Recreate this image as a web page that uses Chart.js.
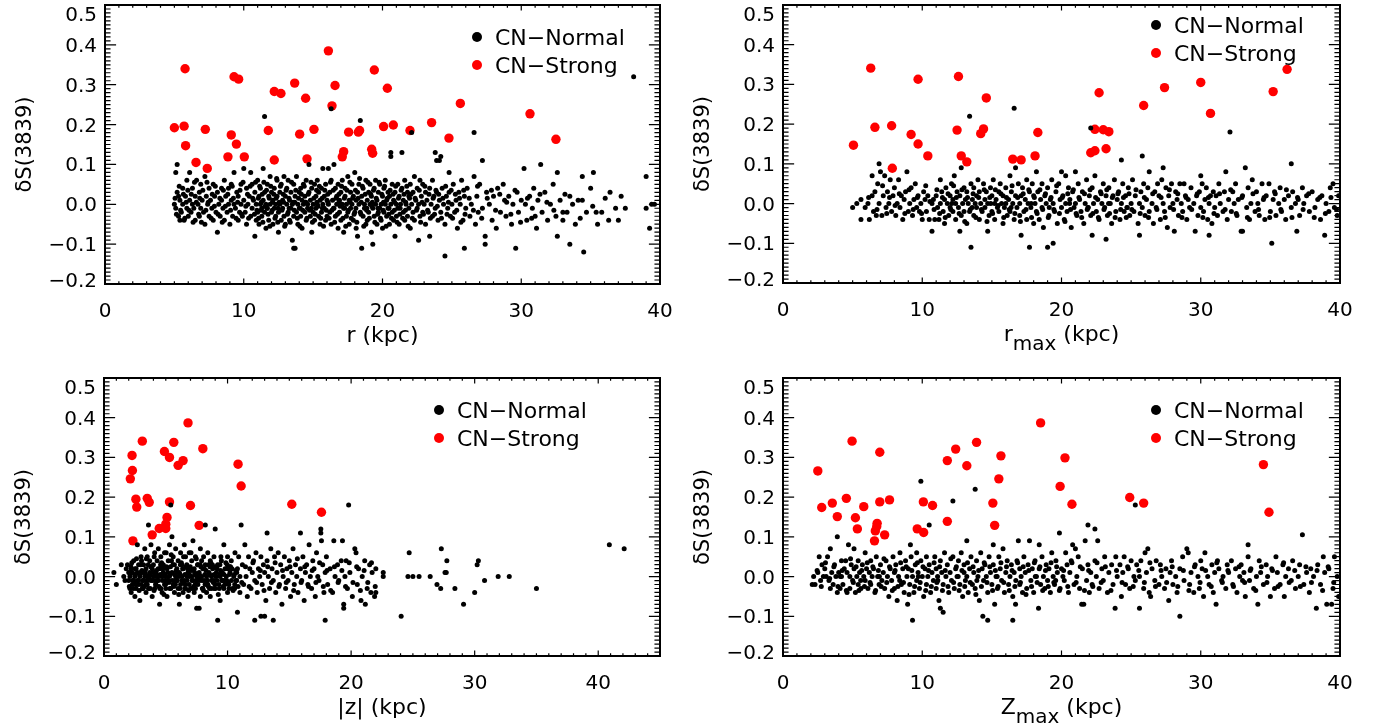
<!DOCTYPE html>
<html>
<head>
<meta charset="utf-8">
<script src="https://cdn.jsdelivr.net/npm/chart.js@4.4.0/dist/chart.umd.min.js"></script>
<style>
  html, body { margin: 0; padding: 0; background: #fff; }
  #wrap { position: relative; width: 1380px; height: 727px; overflow: hidden; }
  canvas { position: absolute; }
</style>
</head>
<body>
<div id="wrap">
  <canvas id="pR" width="690" height="363" style="left:0;top:0"></canvas>
  <canvas id="pRmax" width="690" height="363" style="left:690px;top:0"></canvas>
  <canvas id="pZ" width="690" height="363" style="left:0;top:364px"></canvas>
  <canvas id="pZmax" width="690" height="363" style="left:690px;top:364px"></canvas>
</div>
<script>
// tick labels
const yTicks = [-0.2, -0.1, 0.0, 0.1, 0.2, 0.3, 0.4, 0.5];
const yTickLabels = ["\u22120.2", "\u22120.1", "0.0", "0.1", "0.2", "0.3", "0.4", "0.5"];
const xTicks = [0, 10, 20, 30, 40];
const xTickLabels = ["0", "10", "20", "30", "40"];
const yTitle = "\u03b4S(3839)";
const seriesNames = ["CN\u2212Normal", "CN\u2212Strong"];

const strongR = [5.0,0.192, 5.7,0.196, 5.77,0.340, 5.81,0.147, 6.56,0.105, 7.23,0.188, 7.37,0.09, 8.86,0.119, 9.1,0.174, 9.3,0.32, 9.63,0.314, 9.47,0.151, 10.04,0.119, 11.77,0.185, 12.2,0.283, 12.68,0.278, 12.2,0.111, 13.67,0.304, 14.03,0.176, 14.46,0.266, 14.56,0.114, 15.06,0.188, 16.1,0.385, 16.36,0.247, 16.58,0.298, 17.1,0.119, 17.2,0.132, 17.56,0.181, 18.26,0.181, 18.35,0.185, 19.22,0.138, 19.29,0.128, 19.41,0.337, 20.08,0.195, 20.35,0.291, 20.78,0.199, 21.98,0.185, 23.54,0.205, 24.79,0.166, 25.61,0.253, 30.63,0.227, 32.5,0.163];

const normalR = [
5.0,0.00, 5.1,0.08, 5.1,-0.01, 5.2,0.03, 5.2,0.10, 5.3,-0.03, 5.3,0.02, 5.4,-0.04, 5.4,0.01, 5.5,-0.02, 5.6,0.00, 5.6,0.04, 5.7,-0.04, 5.8,0.02, 5.9,-0.01, 5.9,0.06,
6.0,-0.03, 6.1,0.08, 6.1,0.01, 6.2,-0.02, 6.3,0.04, 6.3,0.00, 6.4,-0.01, 6.5,0.02, 6.5,-0.04, 6.6,0.06, 6.7,0.00, 6.8,-0.03, 6.8,0.03, 6.9,-0.01, 6.9,0.05,
7.0,0.01, 7.1,-0.02, 7.2,0.07, 7.2,-0.05, 7.3,0.02, 7.4,0.00, 7.5,-0.03, 7.5,0.04, 7.6,0.01, 7.7,-0.01, 7.8,0.05, 7.8,-0.04, 7.9,0.02, 8.0,-0.02,
8.1,-0.07, 8.1,0.03, 8.2,0.00, 8.3,-0.03, 8.4,0.04, 8.4,0.01, 8.5,-0.01, 8.6,0.06, 8.6,-0.04, 8.7,0.02, 8.8,-0.02, 8.9,0.00, 8.9,0.04, 9.0,-0.05,
9.1,0.05, 9.1,0.01, 9.2,-0.03, 9.3,0.08, 9.3,0.00, 9.4,-0.01, 9.5,0.03, 9.6,-0.04, 9.6,0.02, 9.7,-0.02, 9.8,0.05, 9.8,0.00, 9.9,-0.03, 10.0,0.09, 10.0,0.01,
10.1,-0.02, 10.2,0.04, 10.2,-0.05, 10.3,0.00, 10.4,0.02, 10.5,0.08, 10.5,-0.03, 10.6,0.05, 10.6,-0.01, 10.7,0.01, 10.8,-0.08, 10.8,0.03, 10.9,-0.04, 10.9,0.00,
11.0,0.06, 11.0,-0.02, 11.1,0.02, 11.1,-0.05, 11.2,0.00, 11.2,0.04, 11.3,-0.01, 11.3,-0.03, 11.4,0.09, 11.4,0.01, 11.5,0.03, 11.5,-0.02, 11.5,0.22, 11.6,0.00, 11.6,-0.06, 11.7,0.05, 11.7,-0.01, 11.8,0.02, 11.8,-0.04, 11.9,0.07, 11.9,0.00, 12.0,-0.02, 12.0,0.03,
12.1,0.01, 12.1,-0.05, 12.2,0.04, 12.2,-0.01, 12.3,0.00, 12.3,-0.03, 12.4,0.06, 12.4,0.02, 12.5,-0.02, 12.5,-0.07, 12.6,0.03, 12.6,0.00, 12.7,-0.04, 12.7,0.05, 12.8,0.01, 12.8,-0.01, 12.9,0.07, 12.9,-0.03, 13.0,0.02, 13.0,-0.05,
13.1,0.00, 13.1,0.04, 13.2,-0.02, 13.2,0.06, 13.3,0.01, 13.3,-0.04, 13.4,0.03, 13.4,-0.01, 13.5,-0.09, 13.5,0.00, 13.6,-0.11, 13.6,0.05, 13.6,-0.03, 13.7,-0.11, 13.7,0.02, 13.8,-0.02, 13.8,0.07, 13.9,0.00, 13.9,-0.05, 14.0,0.03, 14.0,-0.01,
14.1,0.04, 14.1,-0.03, 14.2,0.01, 14.2,-0.06, 14.3,0.00, 14.3,0.05, 14.4,-0.02, 14.4,0.02, 14.5,-0.04, 14.5,0.06, 14.6,0.00, 14.6,-0.01, 14.7,0.10, 14.7,0.03, 14.8,-0.03, 14.8,0.01, 14.9,-0.07, 14.9,0.04, 15.0,0.00, 15.0,-0.02,
15.1,0.05, 15.1,-0.04, 15.2,0.02, 15.2,-0.01, 15.3,0.00, 15.3,0.06, 15.4,-0.03, 15.4,0.03, 15.5,0.01, 15.5,-0.05, 15.6,-0.02, 15.6,0.04, 15.7,0.09, 15.7,0.00, 15.8,-0.01, 15.8,0.02, 15.9,-0.04, 15.9,0.05, 16.0,0.01, 16.0,-0.03,
16.1,0.00, 16.1,0.09, 16.2,-0.02, 16.2,0.03, 16.3,0.06, 16.3,-0.05, 16.3,0.24, 16.4,0.01, 16.5,0.10, 16.5,-0.01, 16.6,0.04, 16.6,-0.03, 16.7,0.00, 16.7,0.02, 16.8,-0.06, 16.8,0.05, 16.9,-0.02, 16.9,0.01, 17.0,0.03, 17.0,-0.04,
17.1,0.00, 17.1,0.06, 17.2,-0.01, 17.2,-0.07, 17.3,0.02, 17.3,0.04, 17.4,-0.03, 17.4,0.00, 17.5,0.07, 17.5,-0.02, 17.6,0.01, 17.6,-0.05, 17.7,0.03, 17.7,-0.01, 17.8,0.05, 17.8,0.00, 17.9,-0.04, 17.9,0.02, 18.0,-0.02, 18.0,0.08,
18.1,0.01, 18.1,-0.06, 18.2,0.03, 18.2,-0.08, 18.3,0.00, 18.3,0.05, 18.4,-0.02, 18.4,0.21, 18.5,-0.11, 18.5,0.02, 18.6,-0.03, 18.6,0.04, 18.7,0.00, 18.7,-0.01, 18.8,0.06, 18.8,-0.05, 18.9,0.01, 18.9,-0.04, 19.0,0.03, 19.0,-0.02,
19.1,0.05, 19.1,0.00, 19.2,-0.07, 19.2,0.02, 19.3,-0.10, 19.3,-0.01, 19.4,0.04, 19.4,-0.03, 19.5,0.00, 19.5,0.06, 19.6,0.01, 19.6,-0.05, 19.7,-0.02, 19.7,0.03, 19.8,0.05, 19.8,-0.01, 19.9,0.00, 19.9,-0.04, 20.0,0.02, 20.0,-0.06,
20.1,0.04, 20.1,-0.02, 20.2,0.00, 20.2,0.06, 20.3,-0.03, 20.3,0.01, 20.4,0.03, 20.4,-0.01, 20.5,-0.05, 20.5,0.02, 20.6,0.13, 20.6,0.00, 20.6,0.12, 20.7,-0.02, 20.7,0.05, 20.8,0.01, 20.8,-0.04, 20.9,-0.08, 20.9,0.03, 21.0,0.00, 21.0,-0.03,
21.1,0.05, 21.1,-0.01, 21.2,0.02, 21.2,-0.05, 21.3,0.00, 21.4,0.13, 21.4,0.04, 21.5,-0.02, 21.5,0.01, 21.6,-0.04, 21.6,0.06, 21.7,0.00, 21.8,0.03, 21.8,-0.03, 21.9,-0.01, 21.9,0.02, 22.0,0.05, 22.0,-0.06,
22.1,0.18, 22.1,0.00, 22.2,-0.02, 22.2,0.03, 22.3,0.07, 22.3,-0.04, 22.4,0.01, 22.5,-0.01, 22.5,0.04, 22.6,-0.09, 22.6,0.00, 22.7,0.06, 22.7,-0.03, 22.8,0.02, 22.9,-0.02, 22.9,0.05, 23.0,0.00,
23.1,-0.05, 23.1,0.03, 23.2,0.01, 23.3,-0.02, 23.4,-0.08, 23.4,0.04, 23.5,0.00, 23.6,0.06, 23.6,-0.03, 23.7,0.02, 23.8,0.13, 23.8,-0.01, 23.9,0.11, 23.9,0.03, 24.0,-0.04,
24.1,0.11, 24.1,0.01, 24.2,0.12, 24.2,-0.02, 24.3,0.04, 24.4,0.00, 24.5,-0.13, 24.5,-0.05, 24.6,0.02, 24.7,-0.01, 24.8,0.08, 24.8,0.03, 24.9,-0.03, 25.0,0.00,
25.1,0.05, 25.2,-0.02, 25.3,0.01, 25.4,-0.06, 25.5,0.03, 25.6,0.00, 25.7,0.06, 25.8,-0.04, 25.9,-0.11, 25.9,0.02, 26.0,-0.01,
26.1,0.04, 26.3,-0.03, 26.4,0.00, 26.6,0.18, 26.6,0.07, 26.7,-0.05, 26.8,0.02, 26.9,-0.02,
27.0,0.05, 27.2,0.11, 27.2,-0.01, 27.4,-0.10, 27.4,-0.08, 27.5,0.03, 27.7,0.00, 27.9,-0.04,
28.0,0.02, 28.2,-0.06, 28.3,0.04, 28.5,-0.02, 28.7,0.05, 28.8,0.01, 28.9,-0.03,
29.1,0.02, 29.3,-0.05, 29.4,0.00, 29.6,-0.11, 29.7,0.03, 29.8,-0.02, 30.0,0.01,
30.2,0.09, 30.3,0.00, 30.4,-0.04, 30.6,0.02, 30.8,-0.01, 30.9,0.04,
31.0,-0.03, 31.1,-0.06, 31.2,0.01, 31.4,0.10, 31.5,-0.02, 31.7,0.03, 31.9,-0.04,
32.1,0.00, 32.3,0.05, 32.5,-0.03, 32.6,0.08, 32.6,-0.08, 32.8,0.01, 33.0,-0.02, 33.0,-0.04,
33.3,-0.02, 33.5,0.02, 33.5,-0.10, 33.7,0.00, 33.9,-0.05,
34.1,0.01, 34.4,0.01, 34.4,0.07, 34.5,-0.12, 34.7,-0.02, 35.0,0.04,
35.2,0.08, 35.4,-0.02, 35.5,-0.05, 35.8,-0.02,
36.3,-0.04, 36.4,0.03, 36.8,-0.01, 37.0,-0.04,
37.2,0.02, 37.5,-0.01, 38.1,0.32, 39.0,0.07, 39.0,-0.01, 39.25,-0.06, 39.4,0.00, 39.6,0.00
];
// crowded band of the r panel, filled in where single dots merge
const bandR = [
5.05,0.015, 5.15,-0.025, 5.35,0.045, 5.45,-0.015, 5.65,0.025, 5.75,-0.035, 5.85,0.005, 5.97,0.035, 6.05,-0.015, 6.22,0.025, 6.35,-0.045, 6.45,0.055, 6.58,0.005, 6.75,-0.025, 6.83,0.015, 6.95,-0.045,
7.05,0.035, 7.27,-0.015, 7.35,0.055, 7.44,0.005, 7.65,-0.035, 7.73,0.025, 7.88,-0.005, 7.95,0.045, 8.15,-0.025, 8.28,0.015, 8.45,-0.045, 8.53,0.035, 8.67,-0.005, 8.85,0.025, 9.05,-0.015, 9.17,0.045,
9.25,0.015, 9.45,-0.035, 9.56,0.005, 9.73,0.035, 9.85,-0.025, 9.95,0.055, 10.15,-0.005, 10.27,0.025, 10.35,-0.035, 10.46,0.045, 10.65,0.015, 10.77,-0.025, 10.85,0.055, 10.95,-0.015,
11.05,0.015, 11.07,-0.035, 11.15,0.045, 11.25,-0.015, 11.33,0.025, 11.38,-0.045, 11.45,0.055, 11.55,-0.005, 11.64,0.035, 11.75,-0.025, 11.84,0.015, 11.88,-0.055, 11.95,0.045, 12.05,-0.015, 12.17,0.025,
12.25,-0.035, 12.33,0.015, 12.37,0.065, 12.45,-0.045, 12.55,0.005, 12.64,0.045, 12.75,-0.015, 12.85,0.025, 12.95,-0.055, 13.05,0.035, 13.15,-0.025, 13.26,0.015, 13.35,-0.045, 13.45,0.055, 13.55,0.005,
13.65,-0.015, 13.75,0.035, 13.86,-0.035, 13.95,0.015, 14.05,-0.055, 14.15,0.025, 14.25,-0.015, 14.36,0.045, 14.45,0.005, 14.55,-0.035, 14.65,0.025, 14.74,-0.015, 14.85,0.055, 14.95,-0.045, 15.05,0.015,
15.15,-0.025, 15.25,0.035, 15.36,-0.005, 15.45,0.045, 15.55,-0.035, 15.65,0.015, 15.75,-0.055, 15.84,0.035, 15.95,-0.015, 16.05,0.025, 16.15,-0.035, 16.25,0.055, 16.35,-0.015, 16.45,0.035, 16.55,-0.045,
16.65,0.015, 16.75,-0.025, 16.86,0.025, 16.95,-0.005, 17.05,0.045, 17.15,-0.035, 17.25,0.015, 17.35,-0.055, 17.44,0.035, 17.55,-0.015, 17.65,0.055, 17.75,-0.035, 17.85,0.015, 17.95,-0.025, 18.05,0.035,
18.15,-0.045, 18.24,0.015, 18.35,0.065, 18.45,-0.025, 18.55,0.045, 18.65,-0.055, 18.75,0.025, 18.86,-0.015, 18.95,0.055, 19.05,-0.035, 19.15,0.025, 19.24,-0.005, 19.35,0.035, 19.45,-0.045, 19.55,0.015,
19.65,-0.025, 19.75,0.055, 19.85,-0.035, 19.95,0.025, 20.05,-0.015, 20.15,0.045, 20.26,-0.055, 20.35,0.015, 20.45,-0.025, 20.55,0.035, 20.65,-0.035, 20.76,0.025, 20.85,-0.015, 20.95,0.045, 21.05,-0.045,
21.15,0.015, 21.25,-0.025, 21.34,0.035, 21.45,-0.035, 21.55,0.025, 21.65,-0.015, 21.75,0.045, 21.85,-0.055, 21.95,0.015,
11.27,0.005, 11.67,-0.01, 12.07,0.005, 12.47,-0.01, 12.87,0.005, 13.27,-0.01, 13.68,0.005, 14.07,-0.01, 14.47,0.005, 14.87,-0.01, 15.27,0.005, 15.67,-0.01, 16.07,0.005, 16.47,-0.01,
16.87,0.005, 17.27,-0.01, 17.67,0.005, 18.08,-0.01, 18.47,0.005, 18.87,-0.01, 19.27,0.005, 19.67,-0.01, 20.07,0.005, 20.47,-0.01, 20.87,0.005, 21.27,-0.01, 21.67,0.005,
22.05,0.025, 22.15,-0.035, 22.35,0.015, 22.45,-0.015, 22.65,0.035, 22.75,-0.045, 22.85,0.005, 22.95,-0.025, 23.05,0.045, 23.25,-0.015, 23.35,0.025, 23.45,-0.035, 23.65,0.015, 23.75,-0.025, 23.85,0.035,
23.95,-0.005, 24.05,0.025, 24.25,-0.035, 24.35,0.015, 24.55,0.045, 24.65,-0.025, 24.75,0.005, 24.95,0.035, 25.05,-0.035, 25.25,0.025, 25.35,-0.015, 25.55,0.015, 25.65,-0.045, 25.85,0.035, 25.95,-0.025,
26.25,0.015, 26.55,-0.015, 26.85,0.045, 27.15,-0.035, 27.55,0.015, 27.85,0.035, 28.15,-0.015, 28.45,0.025, 28.95,0.005, 29.25,-0.025, 29.55,0.035, 29.95,-0.045, 30.45,0.015, 30.75,-0.035, 31.35,0.025,
31.85,0.005, 32.35,-0.015, 33.15,0.025, 34.25,-0.035, 35.15,-0.005, 36.05,0.015
];

const strongRmax = [5.06,0.147, 6.3,0.341, 6.6,0.192, 7.8,0.196, 7.85,0.089, 9.2,0.174, 9.7,0.150, 9.7,0.313, 10.4,0.120, 12.5,0.185, 12.6,0.320, 12.8,0.120, 13.2,0.105, 14.2,0.176, 14.4,0.188, 14.6,0.266, 16.5,0.112, 17.1,0.110, 18.1,0.120, 18.3,0.179, 22.1,0.128, 22.4,0.133, 22.4,0.187, 22.7,0.279, 23.0,0.186, 23.4,0.181, 23.2,0.138, 25.9,0.247, 27.4,0.292, 30.0,0.305, 30.7,0.227, 35.2,0.282, 36.2,0.338];

const normalRmax = [
5.0,-0.01, 5.3,0.00, 5.6,-0.04, 5.6,0.01, 5.9,-0.01, 6.1,0.00, 6.2,-0.04, 6.4,0.07, 6.4,0.02, 6.5,-0.02, 6.6,0.03, 6.7,-0.03, 6.8,0.05, 6.9,0.10, 6.9,0.00,
7.0,0.08, 7.1,-0.03, 7.2,0.02, 7.3,0.07, 7.4,-0.01, 7.5,0.03, 7.6,0.00, 7.7,0.06, 7.8,-0.02, 7.9,0.02, 8.0,0.04, 8.1,-0.03, 8.2,0.00, 8.3,0.06, 8.4,-0.01, 8.5,0.02, 8.6,-0.04, 8.7,0.01, 8.8,0.03, 8.9,0.08, 9.0,-0.02,
9.1,0.00, 9.2,0.04, 9.3,-0.03, 9.4,0.01, 9.5,0.05, 9.6,-0.01, 9.7,0.02, 9.8,-0.02, 9.9,0.00, 10.0,-0.04, 10.1,0.03, 10.2,0.01, 10.3,-0.02, 10.4,0.02, 10.5,-0.04, 10.7,-0.07, 10.7,0.00, 10.8,0.01, 10.9,-0.04,
11.0,0.02, 11.1,-0.01, 11.2,-0.04, 11.3,0.06, 11.3,0.00, 11.4,0.03, 11.5,-0.02, 11.6,0.01, 11.6,-0.05, 11.7,0.04, 11.8,0.00, 11.9,-0.03, 12.0,0.02, 12.0,-0.01,
12.1,0.05, 12.2,-0.02, 12.2,0.01, 12.3,0.07, 12.4,-0.04, 12.4,0.00, 12.5,0.03, 12.6,-0.01, 12.7,-0.07, 12.7,0.02, 12.8,0.09, 12.8,-0.03, 12.9,0.00, 13.0,0.04, 13.0,-0.02,
13.1,0.01, 13.2,-0.05, 13.2,0.03, 13.3,0.00, 13.4,0.22, 13.4,-0.02, 13.5,-0.11, 13.5,0.05, 13.6,0.01, 13.7,-0.03, 13.7,0.04, 13.8,0.00, 13.9,-0.01, 13.9,0.02, 14.0,0.06,
14.1,-0.04, 14.1,0.03, 14.2,0.00, 14.3,-0.02, 14.4,0.05, 14.5,0.01, 14.5,-0.01, 14.6,0.03, 14.7,-0.07, 14.7,0.00, 14.8,-0.03, 14.9,0.04, 15.0,-0.02, 15.0,0.02,
15.1,0.06, 15.2,0.00, 15.2,-0.04, 15.3,0.01, 15.4,-0.01, 15.5,0.03, 15.5,-0.02, 15.6,0.05, 15.7,0.00, 15.8,-0.05, 15.8,0.02, 15.9,-0.01, 16.0,0.04, 16.0,0.00,
16.1,-0.03, 16.2,0.01, 16.3,0.07, 16.3,-0.02, 16.4,0.03, 16.5,0.00, 16.6,0.24, 16.6,-0.04, 16.7,0.02, 16.7,0.09, 16.8,-0.01, 16.9,0.05, 17.0,0.00, 17.0,-0.03,
17.1,-0.08, 17.1,0.02, 17.2,0.04, 17.3,-0.02, 17.4,0.01, 17.5,0.06, 17.5,-0.04, 17.6,0.00, 17.7,-0.11, 17.7,0.03, 17.8,-0.01, 17.9,0.05, 18.0,0.02, 18.0,-0.05,
18.1,0.00, 18.2,0.08, 18.2,-0.02, 18.3,0.03, 18.4,-0.04, 18.5,0.01, 18.6,0.05, 18.6,-0.01, 18.7,-0.06, 18.8,0.02, 18.9,0.00, 19.0,-0.11, 19.0,0.04,
19.1,-0.03, 19.2,0.01, 19.3,0.06, 19.4,-0.10, 19.4,0.00, 19.5,-0.02, 19.6,0.03, 19.7,-0.05, 19.8,0.05, 19.9,0.01, 20.0,-0.01, 20.0,0.08,
20.1,0.02, 20.2,-0.04, 20.3,0.07, 20.3,0.00, 20.4,-0.02, 20.5,0.04, 20.6,0.01, 20.7,-0.06, 20.8,0.03, 20.9,-0.01, 21.0,0.08, 21.0,0.00,
21.1,-0.03, 21.2,0.05, 21.3,0.01, 21.4,-0.02, 21.5,0.03, 21.6,-0.05, 21.7,0.00, 21.8,0.06, 21.9,-0.01, 22.0,0.02,
22.1,0.19, 22.1,-0.03, 22.2,-0.08, 22.2,0.04, 22.3,0.00, 22.4,0.07, 22.5,-0.02, 22.6,0.01, 22.7,-0.04, 22.8,0.03, 22.9,0.00, 23.0,0.05,
23.1,-0.01, 23.2,-0.09, 23.2,0.02, 23.3,-0.03, 23.4,0.04, 23.5,0.00, 23.6,-0.05, 23.7,0.02, 23.8,0.06, 23.9,-0.02, 24.0,0.01,
24.1,0.03, 24.2,-0.04, 24.3,0.11, 24.3,0.00, 24.4,0.05, 24.5,-0.02, 24.6,0.02, 24.7,-0.01, 24.8,0.04, 24.9,-0.03, 25.0,0.00,
25.1,0.06, 25.2,-0.02, 25.3,0.02, 25.5,-0.05, 25.6,-0.08, 25.6,0.00, 25.7,0.03, 25.8,0.12, 25.8,-0.01, 25.9,0.05, 26.0,-0.03,
26.1,0.01, 26.2,0.04, 26.3,0.08, 26.3,-0.02, 26.5,0.00, 26.6,-0.05, 26.7,0.03, 26.8,-0.01, 26.9,0.05, 27.0,0.02,
27.1,-0.04, 27.2,0.06, 27.3,0.09, 27.3,0.00, 27.4,-0.02, 27.5,0.04, 27.6,-0.06, 27.7,0.02, 27.8,-0.01, 27.9,0.05, 28.0,0.00,
28.1,-0.07, 28.2,0.03, 28.3,0.01, 28.4,-0.03, 28.5,0.05, 28.6,0.00, 28.7,-0.02, 28.8,0.05, 28.9,0.02, 29.0,-0.04,
29.1,0.01, 29.2,-0.01, 29.3,0.04, 29.5,0.00, 29.6,-0.07, 29.7,0.02, 29.8,-0.03, 29.9,0.03, 30.0,0.07, 30.0,-0.01,
30.1,0.05, 30.2,-0.02, 30.3,0.01, 30.4,0.04, 30.5,-0.04, 30.6,-0.08, 30.6,0.00, 30.7,0.02, 30.8,-0.05, 30.9,0.03, 31.0,-0.01,
31.1,0.02, 31.2,-0.03, 31.3,0.05, 31.4,0.00, 31.6,-0.02, 31.7,0.03, 31.8,0.08, 31.9,-0.04, 32.0,0.01,
32.1,0.18, 32.2,-0.02, 32.3,0.03, 32.4,0.00, 32.5,0.05, 32.6,-0.03, 32.7,0.01, 32.9,-0.07, 33.0,-0.07, 33.0,0.02,
33.2,0.09, 33.3,-0.01, 33.4,0.04, 33.5,-0.04, 33.6,0.00, 33.7,0.06, 33.9,-0.02, 34.0,0.03,
34.1,0.00, 34.2,-0.03, 34.4,0.05, 34.5,0.01, 34.6,-0.04, 34.7,0.02, 34.9,0.05, 35.0,-0.02,
35.1,-0.10, 35.2,0.01, 35.3,0.03, 35.4,-0.03, 35.6,0.00, 35.7,0.04, 35.8,-0.02, 36.0,0.01,
36.1,-0.04, 36.3,0.02, 36.5,0.10, 36.5,-0.01, 36.6,0.03, 36.8,0.00, 36.9,-0.07, 37.0,0.01,
37.1,-0.03, 37.3,0.04, 37.4,0.00, 37.6,0.02, 37.8,-0.02, 38.0,0.03,
38.2,-0.01, 38.4,0.01, 38.6,-0.04, 38.7,0.02, 38.9,-0.08, 39.0,0.00, 39.2,-0.02, 39.3,0.04, 39.5,0.05, 39.6,-0.01, 39.8,-0.03, 39.9,0.02
];
const bandRmax = [
6.15,0.015, 6.75,-0.015, 7.15,0.045, 7.45,-0.025, 7.65,0.015, 8.05,-0.005, 8.35,0.025, 8.75,-0.025, 9.05,0.035, 9.35,-0.015, 9.65,0.015, 9.95,-0.025, 10.25,0.045, 10.55,0.005, 10.85,-0.015,
11.05,0.035, 11.25,-0.025, 11.45,0.015, 11.65,-0.035, 11.85,0.025, 12.05,-0.015, 12.25,0.045, 12.45,0.015, 12.65,-0.025, 12.85,0.035, 13.05,-0.045, 13.25,0.015, 13.45,-0.015, 13.65,0.025, 13.85,-0.035,
14.05,0.015, 14.25,-0.015, 14.45,0.035, 14.65,-0.045, 14.85,0.015, 15.05,-0.025, 15.25,0.035, 15.45,-0.005, 15.65,0.025, 15.85,-0.035, 16.05,0.015, 16.25,-0.015, 16.45,0.045, 16.65,-0.025, 16.85,0.015,
17.05,-0.045, 17.25,0.025, 17.45,-0.015, 17.65,0.035, 17.85,-0.035, 18.05,0.015, 18.25,-0.025, 18.45,0.035, 18.65,-0.015, 18.85,0.025, 19.05,-0.035, 19.25,0.015, 19.45,-0.015, 19.65,0.045, 19.85,-0.025,
20.05,0.015, 20.25,-0.045, 20.45,0.025, 20.65,-0.015, 20.85,0.035, 21.05,-0.025, 21.25,0.015, 21.45,-0.035, 21.65,0.025, 21.85,-0.015, 22.05,0.035, 22.25,-0.025, 22.45,0.015, 22.65,-0.035, 22.85,0.025,
23.05,-0.015, 23.25,0.035, 23.45,-0.025, 23.65,0.015, 23.85,-0.035, 24.05,0.025, 24.25,-0.015, 24.45,0.015, 24.65,-0.035, 24.85,0.025, 25.05,-0.015, 25.35,0.035, 25.65,-0.025, 25.95,0.015, 26.25,-0.035,
26.55,0.025, 26.85,-0.015, 27.15,0.015, 27.45,-0.035, 27.75,0.035, 28.05,-0.015, 28.35,0.025, 28.65,-0.035, 28.95,0.015, 29.35,-0.015, 29.75,0.025, 30.15,-0.035, 30.55,0.015, 30.95,-0.025, 31.35,0.025,
31.75,-0.015, 32.15,0.035, 32.55,-0.025, 32.95,0.015, 33.35,-0.035, 33.75,0.025, 34.15,-0.015, 34.55,0.015, 34.95,-0.035, 35.35,0.025, 35.75,-0.015, 36.15,0.035, 36.55,-0.035, 36.95,0.015, 37.35,-0.015,
37.75,0.025, 38.15,-0.035, 38.55,0.015, 38.95,-0.025, 39.35,0.015, 39.75,-0.015,
12.12,0.0, 13.58,-0.01, 14.92,0.0, 16.38,-0.01, 17.82,0.0, 19.12,-0.01, 20.58,0.0, 21.92,-0.01, 23.38,0.0, 24.72,-0.01
];

const strongZ = [2.27,0.305, 2.13,0.246, 2.3,0.267, 2.34,0.090, 2.58,0.195, 2.65,0.175, 3.1,0.341, 3.5,0.197, 3.66,0.187, 3.9,0.105, 4.47,0.121, 4.89,0.315, 5.0,0.121, 5.0,0.132, 5.1,0.149, 5.3,0.300, 5.3,0.188, 5.65,0.338, 6.0,0.280, 6.4,0.292, 6.8,0.387, 7.0,0.179, 7.7,0.129, 8.0,0.322, 10.85,0.283, 11.1,0.228, 15.2,0.182, 17.6,0.162];

const normalZ = [
0.8,0.01, 1.0,-0.02, 1.4,0.03, 1.6,0.00, 1.7,-0.01, 1.8,0.02, 1.9,0.03, 2.0,-0.01, 2.0,0.01,
2.1,0.00, 2.1,-0.03, 2.2,0.02, 2.2,-0.04, 2.3,0.01, 2.3,-0.02, 2.4,0.04, 2.4,-0.01, 2.5,0.00, 2.5,-0.05, 2.6,0.02, 2.6,-0.03, 2.7,0.08, 2.7,0.01, 2.8,-0.01, 2.8,0.03, 2.9,-0.06, 2.9,0.00, 3.0,0.05, 3.0,-0.02,
3.1,0.01, 3.1,-0.03, 3.2,0.03, 3.2,-0.01, 3.3,0.07, 3.3,0.00, 3.4,-0.04, 3.4,0.02, 3.5,0.05, 3.5,-0.02, 3.6,0.00, 3.6,0.13, 3.6,-0.03, 3.7,0.01, 3.7,0.04, 3.8,-0.01, 3.8,0.08, 3.9,0.02, 3.9,-0.05, 4.0,0.00, 4.0,0.03,
4.1,-0.03, 4.1,0.06, 4.2,0.01, 4.2,-0.02, 4.3,0.04, 4.3,0.00, 4.4,-0.01, 4.4,0.07, 4.5,-0.07, 4.5,0.02, 4.6,-0.03, 4.6,0.05, 4.7,0.00, 4.7,-0.04, 4.8,0.03, 4.8,0.01, 4.9,-0.02, 4.9,0.06, 5.0,0.00, 5.0,-0.03,
5.1,0.02, 5.1,-0.05, 5.2,0.04, 5.2,-0.01, 5.3,0.00, 5.3,0.08, 5.4,0.18, 5.4,-0.03, 5.5,0.10, 5.5,0.01, 5.6,-0.02, 5.6,0.05, 5.7,0.03, 5.7,-0.04, 5.8,0.00, 5.8,0.07, 5.9,-0.01, 5.9,0.02, 6.0,-0.03, 6.0,0.04,
6.1,-0.07, 6.1,0.01, 6.2,0.06, 6.2,-0.02, 6.3,0.00, 6.3,0.03, 6.4,-0.04, 6.4,0.02, 6.5,0.08, 6.5,-0.01, 6.6,0.05, 6.6,-0.03, 6.7,0.00, 6.7,0.03, 6.8,-0.05, 6.8,0.01, 6.9,-0.02, 6.9,0.06, 7.0,0.02, 7.0,-0.03,
7.1,0.04, 7.1,0.00, 7.2,-0.01, 7.2,0.09, 7.3,-0.04, 7.3,0.02, 7.4,0.05, 7.4,-0.03, 7.5,-0.08, 7.5,0.00, 7.6,0.03, 7.6,-0.02, 7.7,-0.08, 7.7,0.01, 7.8,0.07, 7.8,-0.05, 7.9,0.00, 7.9,0.04, 8.0,-0.03, 8.0,0.02,
8.1,-0.01, 8.2,0.13, 8.2,0.03, 8.3,-0.04, 8.3,0.00, 8.4,0.06, 8.4,-0.02, 8.5,0.01, 8.6,-0.05, 8.6,0.04, 8.7,0.00, 8.7,-0.03, 8.8,0.02, 8.9,-0.01, 8.9,0.05, 9.0,0.12, 9.0,-0.03,
9.1,0.01, 9.2,-0.11, 9.2,0.03, 9.3,-0.02, 9.4,0.00, 9.4,-0.06, 9.5,0.04, 9.6,-0.01, 9.7,0.08, 9.7,-0.03, 9.8,0.02, 9.9,0.00, 10.0,-0.04, 10.0,0.05,
10.1,-0.02, 10.2,0.01, 10.3,0.04, 10.4,-0.03, 10.5,0.00, 10.6,0.06, 10.7,-0.01, 10.8,-0.09, 10.8,0.02, 10.9,0.05, 11.0,-0.04, 11.0,0.00,
11.1,0.13, 11.2,0.03, 11.3,-0.02, 11.4,0.08, 11.5,0.00, 11.6,-0.05, 11.7,0.05, 11.8,0.02, 11.9,-0.03, 12.0,0.01,
12.1,0.04, 12.2,-0.11, 12.2,-0.01, 12.3,0.06, 12.4,-0.04, 12.5,0.02, 12.6,0.00, 12.7,-0.10, 12.7,0.05, 12.8,-0.02, 12.9,0.03, 13.0,-0.10, 13.0,0.01,
13.1,-0.06, 13.2,0.11, 13.2,0.04, 13.3,0.00, 13.4,-0.03, 13.5,0.07, 13.6,0.02, 13.7,-0.11, 13.7,-0.01, 13.8,0.05, 13.9,-0.04, 14.0,0.01,
14.1,0.06, 14.2,-0.02, 14.3,0.03, 14.4,-0.07, 14.5,0.00, 14.6,0.05, 14.7,-0.03, 14.8,0.02, 14.9,-0.01, 15.0,0.04,
15.1,-0.05, 15.2,0.01, 15.3,0.07, 15.4,-0.02, 15.5,0.03, 15.6,0.00, 15.7,-0.04, 15.9,0.11, 15.9,0.02, 16.0,-0.01,
16.1,0.05, 16.2,-0.06, 16.3,0.01, 16.4,0.03, 16.5,-0.02, 16.6,0.08, 16.7,0.00, 16.8,-0.03, 16.9,0.04, 17.0,0.02,
17.1,-0.05, 17.2,0.06, 17.3,0.00, 17.4,-0.01, 17.55,0.12, 17.55,0.11, 17.6,0.09, 17.7,0.03, 17.8,-0.04, 17.9,-0.11, 17.9,0.01, 18.0,0.05,
18.1,-0.02, 18.3,0.02, 18.5,-0.04, 18.6,0.09, 18.7,0.00, 18.9,0.03, 19.0,-0.01,
19.2,0.04, 19.3,0.09, 19.4,-0.08, 19.4,-0.07, 19.5,0.00, 19.6,0.04, 19.7,-0.03, 19.8,0.18, 19.9,0.01,
20.1,-0.05, 20.3,0.07, 20.4,0.06, 20.5,-0.02, 20.6,0.02, 20.8,-0.06, 20.9,0.00,
21.1,0.04, 21.15,-0.07, 21.3,-0.03, 21.5,0.03, 21.6,-0.04, 21.7,0.01, 21.9,-0.05, 22.0,-0.04, 22.0,0.02, 22.6,0.00, 22.6,0.01,
24.05,-0.10, 24.6,0.00, 24.7,0.06, 25.0,0.00, 25.5,0.00, 26.4,0.00, 26.95,-0.02, 27.25,-0.03, 27.3,0.07, 27.6,0.01, 27.7,0.01, 27.75,0.04, 28.4,-0.03, 29.1,-0.07, 30.0,-0.04, 30.2,0.03, 30.3,0.04, 30.8,-0.01, 31.9,0.00, 32.8,0.00, 35.0,-0.03, 40.9,0.08, 42.1,0.07
];
// crowded band of the |z| panel
const bandZ = [
2.15,0.01, 2.38,-0.03, 2.52,0.02, 2.77,-0.02, 2.93,0.01, 3.17,-0.03, 3.32,0.01, 3.58,0.03, 3.74,-0.03, 3.96,0.01, 4.13,-0.01, 4.38,0.02, 4.52,-0.03, 4.77,0.02, 4.94,-0.01, 5.17,0.01, 5.33,-0.03, 5.58,0.03,
5.72,-0.01, 5.96,0.01, 6.14,-0.03, 6.37,0.02, 6.53,-0.03, 6.76,0.02, 6.92,0.00, 7.18,-0.03, 7.34,0.01, 7.57,0.03, 7.73,-0.01, 7.96,-0.03, 8.12,0.02, 8.38,-0.01, 8.54,-0.03, 8.77,0.03, 8.93,-0.03, 9.16,0.02,
9.33,-0.03, 9.58,0.01, 9.74,-0.01, 9.97,0.03, 10.12,-0.03, 10.36,0.02, 10.57,-0.03, 10.74,0.01, 3.04,0.04, 3.46,-0.01, 4.06,0.05, 4.44,0.00, 5.03,0.06, 5.46,0.04, 6.07,0.00, 6.44,0.05, 7.04,0.06, 7.45,-0.01,
8.06,0.05, 8.46,0.03, 9.06,0.00, 9.46,0.05, 10.04,0.02,
2.05,-0.025, 2.25,0.035, 2.45,-0.015, 2.63,0.045, 2.85,-0.035, 3.07,0.015, 3.25,-0.025, 3.43,0.045, 3.65,-0.005, 3.86,0.025, 4.05,-0.035, 4.24,0.015, 4.45,-0.025, 4.66,0.035, 4.85,-0.045, 5.06,0.025,
5.25,-0.015, 5.44,0.055, 5.65,-0.025, 5.84,0.015, 6.05,-0.045, 6.26,0.035, 6.45,-0.015, 6.64,0.025, 6.85,-0.035, 7.06,0.015, 7.25,-0.025, 7.47,0.045, 7.65,-0.005, 7.84,0.025, 8.05,-0.035, 8.26,0.015,
8.45,-0.025, 8.64,0.035, 8.85,-0.015, 9.04,0.025, 9.25,-0.045, 9.44,0.015, 9.65,-0.025, 9.86,0.035, 10.05,-0.015, 10.24,0.025, 10.45,-0.035, 10.66,0.015, 10.85,-0.025,
2.12,0.005, 2.33,-0.01, 2.55,0.005, 2.72,-0.01, 2.91,0.005, 3.14,-0.01, 3.36,0.005, 3.52,-0.01, 3.71,0.005, 3.93,-0.01, 4.16,0.005, 4.32,-0.01, 4.55,0.005, 4.73,-0.01, 4.91,0.005, 5.14,-0.01,
5.36,0.005, 5.52,-0.01, 5.71,0.005, 5.93,-0.01, 6.16,0.005, 6.32,-0.01, 6.55,0.005, 6.73,-0.01, 6.91,0.005, 7.14,-0.01, 7.36,0.005, 7.52,-0.01, 7.71,0.005, 7.93,-0.01, 8.16,0.005, 8.32,-0.01,
8.55,0.005, 8.73,-0.01, 8.91,0.005, 9.14,-0.01, 9.36,0.005, 9.52,-0.01, 9.71,0.005, 9.93,-0.01, 10.16,0.005, 10.32,-0.01, 10.55,0.005, 10.73,-0.01,
2.18,0.025, 2.58,-0.02, 2.98,0.03, 3.38,-0.02, 3.78,0.025, 4.18,-0.02, 4.58,0.03, 4.98,-0.02, 5.38,0.025, 5.78,-0.02, 6.18,0.03, 6.58,-0.02, 6.98,0.025, 7.38,-0.02, 7.78,0.03, 8.18,-0.02,
8.58,0.025, 8.98,-0.02, 9.38,0.03, 9.78,-0.02, 10.18,0.025, 10.58,-0.02,
11.15,-0.015, 11.45,0.025, 11.75,-0.025, 12.05,0.035, 12.35,-0.015, 12.65,0.015, 12.95,-0.035, 13.25,0.025, 13.55,-0.015, 13.85,0.035, 14.15,-0.025, 14.45,0.015, 14.75,-0.015, 15.05,0.025,
15.35,-0.035, 15.65,0.045, 15.95,-0.015, 16.25,0.025, 16.55,-0.025, 16.85,0.015, 17.15,-0.015, 17.45,0.035, 17.75,-0.025, 18.05,0.015, 18.35,-0.035, 18.65,0.025, 18.95,-0.015, 19.25,0.015,
19.55,-0.025, 19.85,0.035, 20.15,-0.015, 20.45,0.025, 20.75,-0.035, 21.05,0.015, 21.35,-0.015, 21.65,0.035, 21.95,-0.025
];

const strongZmax = [2.5,0.266, 2.78,0.174, 3.54,0.185, 3.9,0.151, 4.55,0.197, 4.96,0.341, 5.2,0.148, 5.34,0.120, 5.8,0.176, 6.57,0.090, 6.63,0.115, 6.73,0.126, 6.76,0.134, 6.95,0.188, 6.95,0.313, 7.3,0.105, 7.65,0.193, 9.64,0.120, 10.1,0.111, 10.08,0.188, 10.74,0.179, 11.8,0.139, 11.8,0.292, 12.4,0.321, 13.2,0.279, 13.9,0.338, 15.07,0.185, 15.2,0.129, 15.5,0.246, 15.65,0.304, 18.5,0.387, 19.9,0.227, 20.25,0.299, 20.75,0.182, 24.9,0.199, 25.9,0.185, 34.5,0.282, 34.9,0.162];

const normalZmax = [
2.1,-0.02, 2.2,0.00, 2.3,-0.02, 2.5,0.01, 2.6,0.05, 2.7,-0.01, 2.8,0.03, 2.9,0.00, 3.0,0.02, 3.1,0.00, 3.2,0.05, 3.3,-0.01, 3.4,0.07, 3.4,-0.03, 3.5,0.01, 3.6,-0.02, 3.7,0.03, 3.8,0.00, 3.9,0.10, 3.9,-0.04, 4.0,0.01,
4.1,-0.03, 4.2,0.04, 4.2,0.00, 4.3,-0.02, 4.4,0.02, 4.5,0.04, 4.6,-0.04, 4.6,0.01, 4.7,0.08, 4.8,0.00, 4.8,-0.03, 4.9,0.03, 5.0,-0.01,
5.1,0.02, 5.1,0.07, 5.2,-0.04, 5.3,0.00, 5.4,0.04, 5.4,-0.02, 5.5,0.01, 5.6,-0.03, 5.7,0.03, 5.8,0.00, 5.9,0.06, 5.9,-0.01, 6.0,0.02,
6.1,-0.03, 6.2,0.01, 6.3,0.04, 6.3,-0.02, 6.4,0.00, 6.5,0.02, 6.6,-0.04, 6.7,0.05, 6.8,0.00, 6.9,-0.02, 7.0,0.03,
7.1,-0.01, 7.2,0.01, 7.3,-0.03, 7.4,0.04, 7.5,0.00, 7.6,-0.05, 7.7,0.02, 7.8,-0.01, 7.9,0.05, 8.0,-0.03, 8.0,0.01,
8.1,0.03, 8.2,-0.06, 8.3,0.00, 8.4,0.06, 8.5,-0.02, 8.6,0.02, 8.7,-0.04, 8.8,0.04, 8.9,0.00, 8.95,-0.07, 9.0,0.02,
9.1,-0.02, 9.15,0.08, 9.2,0.05, 9.3,-0.11, 9.3,0.00, 9.4,-0.04, 9.5,0.03, 9.6,0.06, 9.6,-0.01, 9.7,0.01, 9.8,-0.03, 9.9,0.24, 9.9,0.04, 10.0,0.00,
10.1,-0.05, 10.2,0.02, 10.3,0.05, 10.3,-0.02, 10.4,0.00, 10.5,0.13, 10.5,0.03, 10.6,-0.04, 10.7,0.01, 10.8,-0.01, 10.9,0.05, 11.0,-0.03,
11.0,0.02, 11.1,0.00, 11.2,-0.06, 11.3,-0.08, 11.3,0.04, 11.4,0.01, 11.5,-0.09, 11.5,-0.02, 11.6,0.06, 11.7,0.00, 11.8,0.03, 11.9,-0.04, 12.0,0.01,
12.1,-0.01, 12.2,0.19, 12.2,0.05, 12.3,-0.03, 12.4,0.02, 12.5,0.00, 12.6,0.04, 12.7,-0.02, 12.8,0.06, 12.9,-0.05, 13.0,0.01, 13.0,0.03,
13.1,-0.01, 13.2,0.09, 13.2,0.00, 13.3,-0.04, 13.4,0.02, 13.5,0.05, 13.6,-0.02, 13.7,0.01, 13.8,0.22, 13.8,-0.03, 13.9,0.04, 14.0,0.00,
14.1,-0.06, 14.2,0.06, 14.3,0.02, 14.35,-0.10, 14.4,-0.01, 14.5,0.03, 14.6,0.00, 14.7,-0.11, 14.7,-0.04, 14.8,0.05, 14.9,0.01, 15.0,-0.02,
15.1,0.08, 15.1,0.03, 15.2,-0.07, 15.3,0.00, 15.4,-0.03, 15.5,0.05, 15.6,0.02, 15.7,-0.01, 15.8,0.07, 15.9,-0.04, 16.0,0.01,
16.1,0.04, 16.2,-0.02, 16.3,0.00, 16.4,0.03, 16.5,-0.11, 16.5,-0.05, 16.6,0.01, 16.7,-0.07, 16.8,0.04, 16.9,0.09, 17.0,-0.02, 17.0,0.02,
17.1,0.00, 17.2,-0.04, 17.3,0.05, 17.4,0.01, 17.5,-0.03, 17.6,0.03, 17.7,0.09, 17.8,-0.01, 17.9,0.02, 18.0,-0.04,
18.1,0.04, 18.2,0.00, 18.35,-0.08, 18.4,0.08, 18.4,0.02, 18.5,-0.02, 18.6,0.05, 18.7,0.00, 18.8,-0.03, 18.9,0.03, 19.0,-0.01,
19.1,0.02, 19.2,-0.04, 19.3,0.06, 19.4,0.00, 19.5,-0.02, 19.6,0.04, 19.7,0.01, 19.85,0.11, 19.9,-0.03, 20.0,0.02,
20.1,0.00, 20.2,-0.01, 20.3,0.06, 20.4,0.03, 20.5,-0.04, 20.6,0.01, 20.7,0.04, 20.8,0.08, 20.9,-0.02, 21.0,0.07,
21.1,0.00, 21.2,0.05, 21.3,-0.03, 21.45,-0.07, 21.5,0.02, 21.6,-0.07, 21.7,0.09, 21.8,-0.01, 21.9,0.13, 21.9,0.03, 22.0,-0.04,
22.1,0.01, 22.2,-0.02, 22.4,0.12, 22.4,0.04, 22.5,0.00, 22.6,0.09, 22.7,-0.03, 22.9,0.02, 23.0,-0.01,
23.1,0.05, 23.3,-0.04, 23.4,0.01, 23.6,0.03, 23.7,-0.02, 23.85,-0.08, 23.9,0.05, 24.0,0.00,
24.2,0.03, 24.3,-0.05, 24.4,0.01, 24.5,0.05, 24.6,-0.02, 24.8,0.02, 24.9,-0.03, 25.0,0.04,
25.2,0.00, 25.3,0.18, 25.3,-0.01, 25.4,0.03, 25.6,-0.08, 25.6,0.00, 25.7,0.04, 25.9,-0.03, 26.0,0.06,
26.1,0.01, 26.2,0.07, 26.3,-0.04, 26.4,-0.05, 26.5,0.02, 26.7,-0.01, 26.8,0.04, 27.0,-0.02,
27.1,0.03, 27.2,0.00, 27.4,-0.03, 27.5,0.02, 27.7,-0.06, 27.8,0.01, 27.9,0.04, 28.0,-0.02,
28.2,0.00, 28.3,-0.04, 28.5,-0.10, 28.5,0.02, 28.7,0.05, 28.8,-0.01, 29.0,0.07, 29.1,0.06,
29.2,-0.02, 29.3,0.01, 29.5,-0.04, 29.6,0.03, 29.8,0.00, 29.9,-0.03, 30.0,0.04,
30.1,0.02, 30.2,-0.05, 30.3,0.06, 30.5,0.00, 30.6,-0.02, 30.8,0.03, 30.9,-0.04, 31.0,0.01,
31.1,-0.07, 31.2,0.04, 31.3,0.02, 31.5,-0.01, 31.6,0.00, 31.8,-0.03, 31.9,0.03,
32.0,0.01, 32.2,0.04, 32.3,-0.02, 32.5,0.02, 32.6,-0.04, 32.8,0.00, 32.9,0.03, 33.0,-0.01,
33.1,0.01, 33.2,-0.05, 33.4,0.08, 33.4,0.05, 33.5,-0.01, 33.6,0.02, 33.8,-0.03, 34.0,0.00, 34.1,-0.07,
34.2,0.04, 34.3,0.01, 34.5,-0.02, 34.7,0.03, 34.8,0.00, 35.0,-0.05,
35.1,0.02, 35.3,-0.03, 35.4,0.05, 35.5,0.01, 35.7,-0.02, 35.9,0.03, 36.0,-0.05,
36.1,0.00, 36.3,0.02, 36.5,-0.01, 36.6,0.04, 36.8,-0.03, 37.0,0.00,
37.1,0.03, 37.3,0.105, 37.4,-0.02, 37.6,0.01, 37.8,-0.04, 37.9,0.02,
38.1,0.00, 38.3,-0.08, 38.4,0.03, 38.6,-0.02, 38.8,0.05, 38.9,0.01, 39.05,-0.07, 39.2,0.02, 39.4,-0.07, 39.5,-0.03, 39.6,0.05, 39.8,0.00, 39.9,-0.05
];
const bandZmax = [
2.45,0.015, 2.75,-0.025, 3.05,0.035, 3.35,-0.005, 3.65,0.025, 3.95,-0.025, 4.25,0.015, 4.55,-0.035, 4.85,0.045, 5.05,-0.015, 5.25,0.025, 5.45,-0.035, 5.65,0.015, 5.85,-0.025, 6.05,0.035,
6.25,-0.015, 6.45,0.025, 6.65,-0.035, 6.85,0.015, 7.05,-0.025, 7.25,0.045, 7.45,-0.015, 7.65,0.025, 7.85,-0.035, 8.05,0.015, 8.25,-0.025, 8.45,0.035, 8.65,-0.015, 8.85,0.025, 9.05,-0.045,
9.25,0.015, 9.45,-0.025, 9.65,0.035, 9.85,-0.015, 10.05,0.025, 10.25,-0.035, 10.45,0.015, 10.65,-0.025, 10.85,0.035, 11.05,-0.015, 11.25,0.025, 11.45,-0.035, 11.65,0.015, 11.85,-0.025, 12.05,0.045,
12.25,-0.015, 12.45,0.025, 12.65,-0.035, 12.85,0.015, 13.05,-0.025, 13.25,0.035, 13.45,-0.015, 13.65,0.025, 13.85,-0.045, 14.05,0.015, 14.25,-0.025, 14.45,0.035, 14.65,-0.015, 14.85,0.025, 15.05,-0.035,
15.25,0.015, 15.45,-0.025, 15.65,0.035, 15.85,-0.015, 16.05,0.025, 16.25,-0.035, 16.45,0.015, 16.65,-0.025, 16.85,0.035, 17.05,-0.015, 17.25,0.025, 17.45,-0.045, 17.65,0.015, 17.85,-0.025, 18.05,0.035,
18.25,-0.015, 18.45,0.025, 18.65,-0.035, 18.85,0.015, 19.05,-0.025, 19.25,0.035, 19.45,-0.015, 19.65,0.025, 19.85,-0.035, 20.15,0.015, 20.45,-0.025, 20.75,0.035, 21.05,-0.015, 21.35,0.025, 21.65,-0.035,
21.95,0.015, 22.25,-0.025, 22.55,0.035, 22.85,-0.015, 23.15,0.025, 23.55,-0.035, 23.95,0.015, 24.35,-0.015, 24.75,0.025, 25.15,-0.025, 25.55,0.015, 25.95,-0.015, 26.35,0.035, 26.75,-0.025, 27.15,0.015,
27.55,-0.015, 27.95,0.025, 28.35,-0.025, 28.75,0.015, 29.15,-0.035, 29.55,0.025, 29.95,-0.015, 30.35,0.015, 30.75,-0.025, 31.15,0.035, 31.55,-0.015, 31.95,0.015, 32.35,-0.025, 32.75,0.025, 33.15,-0.015,
33.55,0.015, 33.95,-0.035, 34.35,0.025, 34.75,-0.015, 35.15,0.015, 35.55,-0.025, 35.95,0.035, 36.35,-0.015, 36.75,0.015, 37.15,-0.025, 37.55,0.025, 37.95,-0.015, 38.35,0.015, 38.75,-0.035, 39.15,0.025,
39.55,-0.015,
4.12,0.0, 5.58,-0.01, 6.92,0.0, 8.38,-0.01, 9.72,0.0, 11.12,-0.01, 12.58,0.0, 13.92,-0.01, 15.38,0.0, 16.72,-0.01, 18.12,0.0, 19.58,-0.01
];

const FONT = '"DejaVu Sans"';

function pairs(flat) {
  const out = [];
  for (let i = 0; i < flat.length; i += 2) out.push({ x: flat[i], y: flat[i + 1] });
  return out;
}

const panels = [
  { id: "pR", normal: normalR.concat(bandR), strong: strongR, xMax: 40,
    xTitle: [{ t: "r" }, { t: " (kpc)" }],
    pad: { left: 105, right: 30, top: 5, bottom: 79 },
    legend: { dx: 372, dy: [32, 60] } },
  { id: "pRmax", normal: normalRmax.concat(bandRmax), strong: strongRmax, xMax: 40,
    xTitle: [{ t: "r" }, { t: "max", sub: true }, { t: " (kpc)" }],
    pad: { left: 93, right: 40, top: 5, bottom: 80 },
    legend: { dx: 373, dy: [20, 48] } },
  { id: "pZ", normal: normalZ.concat(bandZ), strong: strongZ, xMax: 45,
    xTitle: [{ t: "|z| (kpc)" }],
    pad: { left: 104, right: 30, top: 14, bottom: 71 },
    legend: { dx: 335, dy: [32, 60] } },
  { id: "pZmax", normal: normalZmax.concat(bandZmax), strong: strongZmax, xMax: 40,
    xTitle: [{ t: "Z" }, { t: "max", sub: true }, { t: " (kpc)" }],
    pad: { left: 93, right: 40, top: 14, bottom: 71 },
    legend: { dx: 373, dy: [32, 60] } }
];

function makeAxes(p) {
  return {
    id: "idlAxes",
    afterDraw(chart) {
      const ctx = chart.ctx, a = chart.chartArea;
      const xs = chart.scales.x, ys = chart.scales.y;
      const w = a.right - a.left, h = a.bottom - a.top;
      ctx.save();
      ctx.strokeStyle = "#000";
      ctx.fillStyle = "#000";

      // inward ticks on all four sides
      ctx.lineWidth = 1.2;
      ctx.beginPath();
      for (let k = 0; k <= p.xMax; k++) {
        const px = xs.getPixelForValue(k);
        const len = (k % 10 === 0 ? 0.02 : 0.01) * h;
        ctx.moveTo(px, a.bottom); ctx.lineTo(px, a.bottom - len);
        ctx.moveTo(px, a.top); ctx.lineTo(px, a.top + len);
      }
      for (let i = 0; i <= 70; i++) {
        const py = ys.getPixelForValue(-0.2 + i * 0.01);
        const len = (i % 10 === 0 ? 0.02 : 0.01) * w;
        ctx.moveTo(a.left, py); ctx.lineTo(a.left + len, py);
        ctx.moveTo(a.right, py); ctx.lineTo(a.right - len, py);
      }
      ctx.stroke();
      ctx.lineWidth = 2;
      ctx.strokeRect(a.left, a.top, w, h);

      // tick labels
      ctx.font = "20px " + FONT;
      ctx.textAlign = "center";
      ctx.textBaseline = "alphabetic";
      xTicks.forEach((v, i) => ctx.fillText(xTickLabels[i], xs.getPixelForValue(v), a.bottom + 33));
      ctx.textAlign = "right";
      yTicks.forEach((v, i) => {
        let py = ys.getPixelForValue(v);
        py = Math.min(Math.max(py, a.top + 9), a.bottom - 4);
        ctx.fillText(yTickLabels[i], a.left - 8, py + 7);
      });

      // y title
      ctx.save();
      ctx.translate(a.left - 82, (a.top + a.bottom) / 2);
      ctx.rotate(-Math.PI / 2);
      ctx.font = "21px " + FONT;
      ctx.textAlign = "center";
      ctx.fillText(yTitle, 0, 7.5);
      ctx.restore();

      // x title, subscript where needed
      let total = 0;
      p.xTitle.forEach(q => {
        ctx.font = (q.sub ? 20 : 22) + "px " + FONT;
        total += ctx.measureText(q.t).width;
      });
      let tx = (a.left + a.right) / 2 - total / 2;
      ctx.textAlign = "left";
      p.xTitle.forEach(q => {
        ctx.font = (q.sub ? 20 : 22) + "px " + FONT;
        ctx.fillText(q.t, tx, a.bottom + 58 + (q.sub ? 9 : 0));
        tx += ctx.measureText(q.t).width;
      });

      // legend inside the plot
      ctx.font = "22px " + FONT;
      chart.data.datasets.forEach((ds, i) => {
        const lx = a.left + p.legend.dx, ly = a.top + p.legend.dy[i];
        ctx.beginPath();
        ctx.arc(lx, ly, 5, 0, Math.PI * 2);
        ctx.fillStyle = ds.pointBackgroundColor;
        ctx.fill();
        ctx.fillStyle = "#000";
        ctx.fillText(ds.label, lx + 18, ly + 8);
      });
      ctx.restore();
    }
  };
}

panels.forEach(p => {
  new Chart(document.getElementById(p.id), {
    type: "scatter",
    data: {
      datasets: [
        { label: seriesNames[0], data: pairs(p.normal), pointRadius: 2.5,
          pointBackgroundColor: "#000000", pointBorderWidth: 0, borderColor: "#000000" },
        { label: seriesNames[1], data: pairs(p.strong), pointRadius: 4.7,
          pointBackgroundColor: "#ff0000", pointBorderWidth: 0, borderColor: "#ff0000" }
      ]
    },
    options: {
      responsive: false,
      animation: false,
      devicePixelRatio: 1,
      events: [],
      layout: { padding: p.pad },
      scales: {
        x: { type: "linear", min: 0, max: p.xMax, display: false },
        y: { type: "linear", min: -0.2, max: 0.5, display: false }
      },
      plugins: { legend: { display: false }, tooltip: { enabled: false } }
    },
    plugins: [makeAxes(p)]
  });
});
</script>
</body>
</html>
